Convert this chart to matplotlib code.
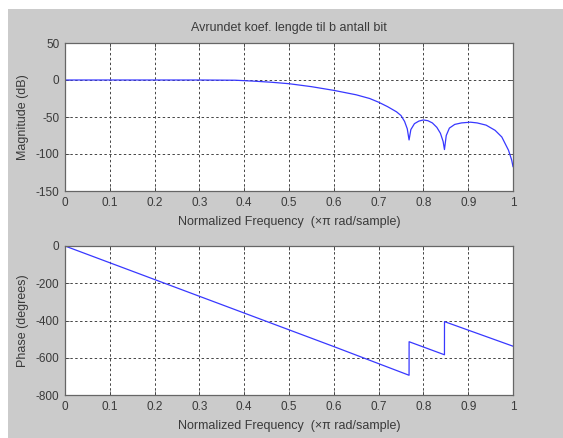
# Frequency response (freqz-style) of a filter with rounded coefficients
import matplotlib
matplotlib.use("Agg")
import matplotlib.pyplot as plt
from matplotlib.patches import Rectangle

# Magnitude response
mag_freq = [0.0, 0.1, 0.2, 0.3, 0.38, 0.42, 0.46, 0.5, 0.55, 0.6, 0.65, 0.68,
            0.7, 0.72, 0.74, 0.75, 0.758, 0.764, 0.768, 0.772, 0.78, 0.79,
            0.80, 0.81, 0.82, 0.83, 0.838, 0.844, 0.847, 0.851, 0.858, 0.87,
            0.885, 0.905, 0.92, 0.94, 0.96, 0.975, 0.99, 0.997, 1.0]
mag_db = [0.0, 0.0, 0.0, 0.0, -0.3, -1.5, -3.0, -5.0, -9.0, -14.0, -20.0, -25.0,
          -30.0, -36.0, -43.0, -48.0, -56.0, -66.0, -81.0, -67.0, -59.0, -55.5,
          -54.0, -55.0, -58.0, -64.0, -72.0, -83.0, -94.0, -75.0, -65.0, -60.0,
          -58.0, -57.0, -58.0, -61.0, -68.0, -77.0, -95.0, -108.0, -117.0]

# Phase response
ph_freq = [0.0, 0.2, 0.4, 0.6, 0.768, 0.7681, 0.847, 0.8471, 1.0]
ph_deg = [0.0, -180.0, -360.0, -540.0, -694.0, -514.0, -584.0, -406.0, -538.0]

xticks = [0, 0.1, 0.2, 0.3, 0.4, 0.5, 0.6, 0.7, 0.8, 0.9, 1]
xticklabels = ["0", "0.1", "0.2", "0.3", "0.4", "0.5", "0.6", "0.7", "0.8", "0.9", "1"]
mag_ticks = [50, 0, -50, -100, -150]
ph_ticks = [0, -200, -400, -600, -800]

title = "Avrundet koef. lengde til b antall bit"
xlabel = "Normalized Frequency  (\u00d7\u03c0 rad/sample)"

plt.rcParams["font.family"] = ["Liberation Sans", "DejaVu Sans"]
plt.rcParams["axes.unicode_minus"] = False
fs = 8.5
lfs = 9
tc = "#3a3a3a"

W, H = 563, 438
fig = plt.figure(figsize=(W / 100, H / 100), dpi=100, facecolor="white")
bg = Rectangle((8 / W, 0), 1, 1 - 9 / H, transform=fig.transFigure,
               facecolor="#cbcbcb", edgecolor="none", zorder=-10)
fig.add_artist(bg)


def setup(ax, yticks, ylim, ylabel):
    ax.set_xlim(0, 1)
    ax.set_ylim(*ylim)
    ax.set_xticks(xticks)
    ax.set_xticklabels(xticklabels)
    ax.set_yticks(yticks)
    ax.tick_params(direction="in", length=3, labelsize=fs, labelcolor=tc,
                   color="#444444", width=0.6, pad=4, top=True, right=True)
    ax.grid(True, color="#444444", linestyle=(0, (2.5, 2.5)), linewidth=0.7)
    for s in ax.spines.values():
        s.set_color("#666666")
        s.set_linewidth(0.9)
    ax.set_xlabel(xlabel, fontsize=lfs, color=tc, labelpad=5)
    ax.set_ylabel(ylabel, fontsize=lfs, color=tc, labelpad=5)


ax1 = fig.add_axes([65 / W, 1 - 191 / H, 448 / W, 148 / H])
ax1.plot(mag_freq, mag_db, color="#3838ff", linewidth=0.9)
setup(ax1, mag_ticks, (-150, 50), "Magnitude (dB)")
ax1.set_title(title, fontsize=lfs, color=tc, pad=9)

ax2 = fig.add_axes([65 / W, 1 - 395 / H, 448 / W, 149 / H])
ax2.plot(ph_freq, ph_deg, color="#3838ff", linewidth=0.9)
setup(ax2, ph_ticks, (-800, 0), "Phase (degrees)")

fig.savefig("out.png", dpi=100, facecolor=fig.get_facecolor())
